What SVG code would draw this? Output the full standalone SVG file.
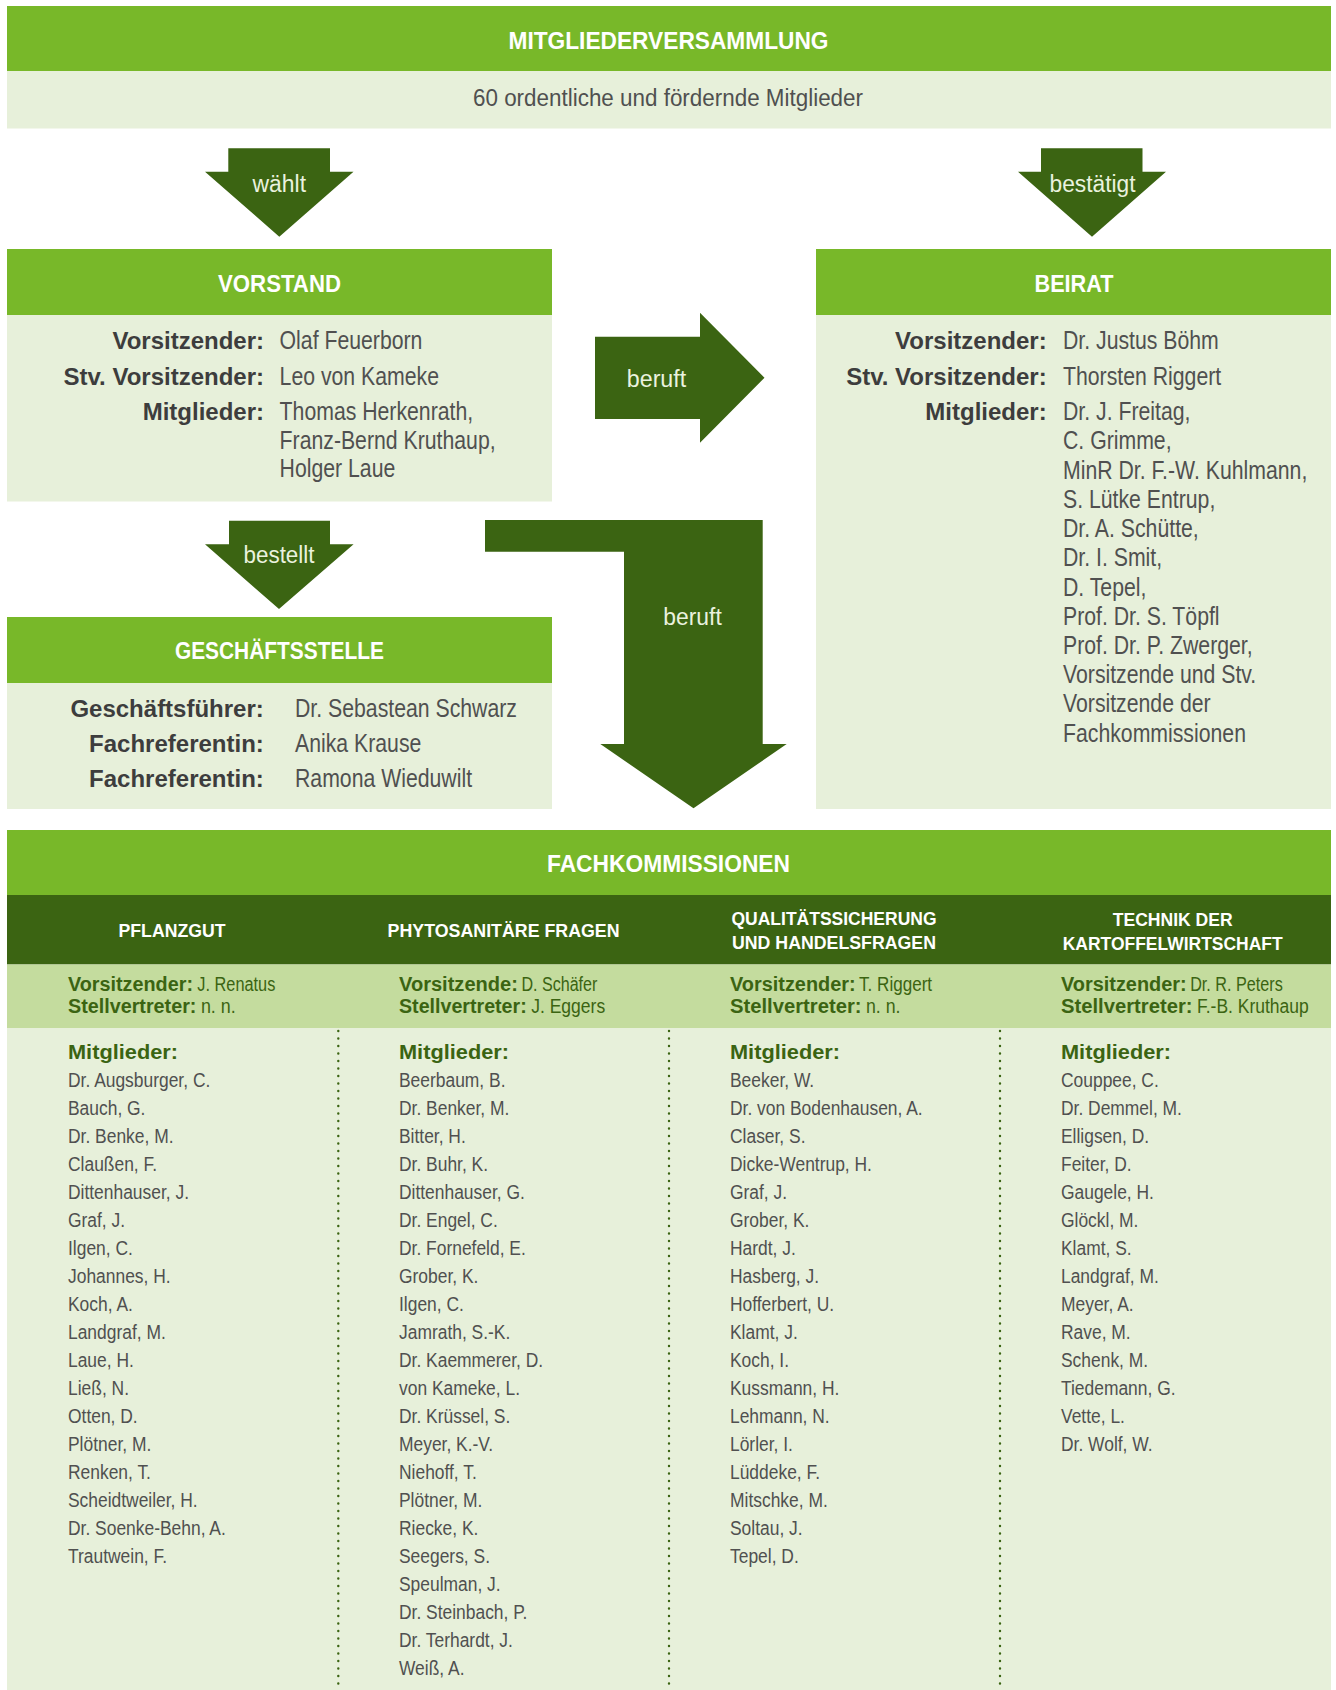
<svg xmlns="http://www.w3.org/2000/svg" width="1336" height="1690" viewBox="0 0 1336 1690">
<style>
text{font-family:"Liberation Sans",Arial,sans-serif}
.bg-g{fill:#78b829}
.bg-d{fill:#3b6412}
.bg-l{fill:#e7f0da}
.bg-m{fill:#c4dc9e}
.title{font-weight:bold;font-size:23px;fill:#ffffff;text-anchor:middle}
.lbl{font-weight:bold;font-size:24px;fill:#3d3d3d;text-anchor:end}
.val{font-size:25px;fill:#505050}
.sub{font-size:23px;fill:#505050;text-anchor:middle}
.arr{fill:#3b6412}
.atx{font-size:23px;fill:#eaf2df;text-anchor:middle}
.colh{font-weight:bold;font-size:18.5px;fill:#ffffff;text-anchor:middle}
.fl{font-weight:bold;font-size:19.5px;fill:#3b6412}
.fv{font-size:19.5px;fill:#3b6412}
.mh{font-weight:bold;font-size:21px;fill:#3b6412}
.mn{font-size:21px;fill:#505050}
.dot{stroke:#3b6412;stroke-width:2.4;stroke-linecap:round;stroke-dasharray:0 7.5;fill:none}
</style>

<g id="mitgliederversammlung">
<rect class="bg-g" x="7" y="6" width="1324" height="65"/>
<rect class="bg-l" x="7" y="71" width="1324" height="57.5"/>
<text class="title" x="668.5" y="48.5" textLength="320" lengthAdjust="spacingAndGlyphs">MITGLIEDERVERSAMMLUNG</text>
<text class="sub" x="668" y="105.5" textLength="390" lengthAdjust="spacingAndGlyphs">60 ordentliche und fördernde Mitglieder</text>
</g>

<g id="vorstand">
<rect class="bg-g" x="7" y="249" width="545" height="66"/>
<rect class="bg-l" x="7" y="315" width="545" height="186.5"/>
<text class="title" x="279.5" y="291.5" textLength="123" lengthAdjust="spacingAndGlyphs">VORSTAND</text>
<text class="lbl" x="264" y="349.3">Vorsitzender:</text>
<text class="lbl" x="264" y="385">Stv. Vorsitzender:</text>
<text class="lbl" x="264" y="420">Mitglieder:</text>
<g transform="translate(279.6 0) scale(0.85 1)">
<text class="val" x="0" y="349.3">Olaf Feuerborn</text>
<text class="val" x="0" y="385">Leo von Kameke</text>
<text class="val" x="0" y="420">Thomas Herkenrath,</text>
<text class="val" x="0" y="449.3">Franz-Bernd Kruthaup,</text>
<text class="val" x="0" y="477.5">Holger Laue</text>
</g>
</g>

<g id="beirat">
<rect class="bg-g" x="816" y="249" width="515" height="66"/>
<rect class="bg-l" x="816" y="315" width="515" height="494"/>
<text class="title" x="1074" y="291.5" textLength="79" lengthAdjust="spacingAndGlyphs">BEIRAT</text>
<text class="lbl" x="1046.7" y="349.3">Vorsitzender:</text>
<text class="lbl" x="1046.7" y="385">Stv. Vorsitzender:</text>
<text class="lbl" x="1046.7" y="420">Mitglieder:</text>
<g transform="translate(1063 0) scale(0.85 1)">
<text class="val" x="0" y="349.3">Dr. Justus Böhm</text>
<text class="val" x="0" y="385">Thorsten Riggert</text>
<text class="val" x="0" y="420">Dr. J. Freitag,</text>
<text class="val" x="0" y="449.5">C. Grimme,</text>
<text class="val" x="0" y="478.7">MinR Dr. F.-W. Kuhlmann,</text>
<text class="val" x="0" y="508">S. Lütke Entrup,</text>
<text class="val" x="0" y="537.2">Dr. A. Schütte,</text>
<text class="val" x="0" y="566.4">Dr. I. Smit,</text>
<text class="val" x="0" y="595.6">D. Tepel,</text>
<text class="val" x="0" y="624.8">Prof. Dr. S. Töpfl</text>
<text class="val" x="0" y="654">Prof. Dr. P. Zwerger,</text>
<text class="val" x="0" y="683.2">Vorsitzende und Stv.</text>
<text class="val" x="0" y="712.4">Vorsitzende der</text>
<text class="val" x="0" y="741.6">Fachkommissionen</text>
</g>
</g>

<g id="geschaeftsstelle">
<rect class="bg-g" x="7" y="617" width="545" height="66"/>
<rect class="bg-l" x="7" y="683" width="545" height="126"/>
<text class="title" x="279.4" y="659" textLength="209" lengthAdjust="spacingAndGlyphs">GESCHÄFTSSTELLE</text>
<text class="lbl" x="263.8" y="717.3">Geschäftsführer:</text>
<text class="lbl" x="263.8" y="752.3">Fachreferentin:</text>
<text class="lbl" x="263.8" y="787.3">Fachreferentin:</text>
<g transform="translate(295 0) scale(0.85 1)">
<text class="val" x="0" y="717.3">Dr. Sebastean Schwarz</text>
<text class="val" x="0" y="752.3">Anika Krause</text>
<text class="val" x="0" y="787.3">Ramona Wieduwilt</text>
</g>
</g>

<g id="fachkommissionen">
<rect class="bg-g" x="7" y="830" width="1324" height="65"/>
<rect class="bg-d" x="7" y="895" width="1324" height="69.5"/>
<rect class="bg-m" x="7" y="964.5" width="1324" height="63.5"/>
<rect class="bg-l" x="7" y="1028" width="1324" height="662"/>
<text class="title" x="668.5" y="872" textLength="243" lengthAdjust="spacingAndGlyphs">FACHKOMMISSIONEN</text>
<line class="dot" x1="338.3" y1="1031" x2="338.3" y2="1690"/>
<line class="dot" x1="669" y1="1031" x2="669" y2="1690"/>
<line class="dot" x1="1000" y1="1031" x2="1000" y2="1690"/>

<g id="fk-pflanzgut">
<text class="colh" x="172" y="936.5" textLength="107" lengthAdjust="spacingAndGlyphs">PFLANZGUT</text>
<text class="fl" x="68" y="990.5" textLength="125" lengthAdjust="spacingAndGlyphs">Vorsitzender:</text>
<text class="fv" x="197.3" y="990.5" textLength="78" lengthAdjust="spacingAndGlyphs">J. Renatus</text>
<text class="fl" x="68" y="1012.5" textLength="128.4" lengthAdjust="spacingAndGlyphs">Stellvertreter:</text>
<text class="fv" x="200.9" y="1012.5" textLength="34.8" lengthAdjust="spacingAndGlyphs">n. n.</text>
<text class="mh" x="68" y="1059" textLength="110" lengthAdjust="spacingAndGlyphs">Mitglieder:</text>
<g transform="translate(68 0) scale(0.83 1)">
<text class="mn" x="0" y="1087">Dr. Augsburger, C.</text>
<text class="mn" x="0" y="1115">Bauch, G.</text>
<text class="mn" x="0" y="1143">Dr. Benke, M.</text>
<text class="mn" x="0" y="1171">Claußen, F.</text>
<text class="mn" x="0" y="1199">Dittenhauser, J.</text>
<text class="mn" x="0" y="1227">Graf, J.</text>
<text class="mn" x="0" y="1255">Ilgen, C.</text>
<text class="mn" x="0" y="1283">Johannes, H.</text>
<text class="mn" x="0" y="1311">Koch, A.</text>
<text class="mn" x="0" y="1339">Landgraf, M.</text>
<text class="mn" x="0" y="1367">Laue, H.</text>
<text class="mn" x="0" y="1395">Ließ, N.</text>
<text class="mn" x="0" y="1423">Otten, D.</text>
<text class="mn" x="0" y="1451">Plötner, M.</text>
<text class="mn" x="0" y="1479">Renken, T.</text>
<text class="mn" x="0" y="1507">Scheidtweiler, H.</text>
<text class="mn" x="0" y="1535">Dr. Soenke-Behn, A.</text>
<text class="mn" x="0" y="1563">Trautwein, F.</text>
</g>
</g>

<g id="fk-phytosanitaere-fragen">
<text class="colh" x="503.6" y="936.5" textLength="232" lengthAdjust="spacingAndGlyphs">PHYTOSANITÄRE FRAGEN</text>
<text class="fl" x="399" y="990.5" textLength="118.9" lengthAdjust="spacingAndGlyphs">Vorsitzende:</text>
<text class="fv" x="521.4" y="990.5" textLength="76" lengthAdjust="spacingAndGlyphs">D. Schäfer</text>
<text class="fl" x="399" y="1012.5" textLength="127.7" lengthAdjust="spacingAndGlyphs">Stellvertreter:</text>
<text class="fv" x="531.2" y="1012.5" textLength="74" lengthAdjust="spacingAndGlyphs">J. Eggers</text>
<text class="mh" x="399" y="1059" textLength="110" lengthAdjust="spacingAndGlyphs">Mitglieder:</text>
<g transform="translate(399 0) scale(0.83 1)">
<text class="mn" x="0" y="1087">Beerbaum, B.</text>
<text class="mn" x="0" y="1115">Dr. Benker, M.</text>
<text class="mn" x="0" y="1143">Bitter, H.</text>
<text class="mn" x="0" y="1171">Dr. Buhr, K.</text>
<text class="mn" x="0" y="1199">Dittenhauser, G.</text>
<text class="mn" x="0" y="1227">Dr. Engel, C.</text>
<text class="mn" x="0" y="1255">Dr. Fornefeld, E.</text>
<text class="mn" x="0" y="1283">Grober, K.</text>
<text class="mn" x="0" y="1311">Ilgen, C.</text>
<text class="mn" x="0" y="1339">Jamrath, S.-K.</text>
<text class="mn" x="0" y="1367">Dr. Kaemmerer, D.</text>
<text class="mn" x="0" y="1395">von Kameke, L.</text>
<text class="mn" x="0" y="1423">Dr. Krüssel, S.</text>
<text class="mn" x="0" y="1451">Meyer, K.-V.</text>
<text class="mn" x="0" y="1479">Niehoff, T.</text>
<text class="mn" x="0" y="1507">Plötner, M.</text>
<text class="mn" x="0" y="1535">Riecke, K.</text>
<text class="mn" x="0" y="1563">Seegers, S.</text>
<text class="mn" x="0" y="1591">Speulman, J.</text>
<text class="mn" x="0" y="1619">Dr. Steinbach, P.</text>
<text class="mn" x="0" y="1647">Dr. Terhardt, J.</text>
<text class="mn" x="0" y="1675">Weiß, A.</text>
</g>
</g>

<g id="fk-qualitaetssicherung">
<text class="colh" x="834" y="925" textLength="205" lengthAdjust="spacingAndGlyphs">QUALITÄTSSICHERUNG</text>
<text class="colh" x="834" y="949" textLength="204" lengthAdjust="spacingAndGlyphs">UND HANDELSFRAGEN</text>
<text class="fl" x="730" y="990.5" textLength="125.6" lengthAdjust="spacingAndGlyphs">Vorsitzender:</text>
<text class="fv" x="859.1" y="990.5" textLength="73" lengthAdjust="spacingAndGlyphs">T. Riggert</text>
<text class="fl" x="730" y="1012.5" textLength="131.5" lengthAdjust="spacingAndGlyphs">Stellvertreter:</text>
<text class="fv" x="866" y="1012.5" textLength="34.5" lengthAdjust="spacingAndGlyphs">n. n.</text>
<text class="mh" x="730" y="1059" textLength="110" lengthAdjust="spacingAndGlyphs">Mitglieder:</text>
<g transform="translate(730 0) scale(0.83 1)">
<text class="mn" x="0" y="1087">Beeker, W.</text>
<text class="mn" x="0" y="1115">Dr. von Bodenhausen, A.</text>
<text class="mn" x="0" y="1143">Claser, S.</text>
<text class="mn" x="0" y="1171">Dicke-Wentrup, H.</text>
<text class="mn" x="0" y="1199">Graf, J.</text>
<text class="mn" x="0" y="1227">Grober, K.</text>
<text class="mn" x="0" y="1255">Hardt, J.</text>
<text class="mn" x="0" y="1283">Hasberg, J.</text>
<text class="mn" x="0" y="1311">Hofferbert, U.</text>
<text class="mn" x="0" y="1339">Klamt, J.</text>
<text class="mn" x="0" y="1367">Koch, I.</text>
<text class="mn" x="0" y="1395">Kussmann, H.</text>
<text class="mn" x="0" y="1423">Lehmann, N.</text>
<text class="mn" x="0" y="1451">Lörler, I.</text>
<text class="mn" x="0" y="1479">Lüddeke, F.</text>
<text class="mn" x="0" y="1507">Mitschke, M.</text>
<text class="mn" x="0" y="1535">Soltau, J.</text>
<text class="mn" x="0" y="1563">Tepel, D.</text>
</g>
</g>

<g id="fk-technik">
<text class="colh" x="1172.7" y="925.5" textLength="120" lengthAdjust="spacingAndGlyphs">TECHNIK DER</text>
<text class="colh" x="1172.7" y="949.5" textLength="220" lengthAdjust="spacingAndGlyphs">KARTOFFELWIRTSCHAFT</text>
<text class="fl" x="1061" y="990.5" textLength="125.7" lengthAdjust="spacingAndGlyphs">Vorsitzender:</text>
<text class="fv" x="1190.2" y="990.5" textLength="92.6" lengthAdjust="spacingAndGlyphs">Dr. R. Peters</text>
<text class="fl" x="1061" y="1012.5" textLength="131.5" lengthAdjust="spacingAndGlyphs">Stellvertreter:</text>
<text class="fv" x="1197" y="1012.5" textLength="111.7" lengthAdjust="spacingAndGlyphs">F.-B. Kruthaup</text>
<text class="mh" x="1061" y="1059" textLength="110" lengthAdjust="spacingAndGlyphs">Mitglieder:</text>
<g transform="translate(1061 0) scale(0.83 1)">
<text class="mn" x="0" y="1087">Couppee, C.</text>
<text class="mn" x="0" y="1115">Dr. Demmel, M.</text>
<text class="mn" x="0" y="1143">Elligsen, D.</text>
<text class="mn" x="0" y="1171">Feiter, D.</text>
<text class="mn" x="0" y="1199">Gaugele, H.</text>
<text class="mn" x="0" y="1227">Glöckl, M.</text>
<text class="mn" x="0" y="1255">Klamt, S.</text>
<text class="mn" x="0" y="1283">Landgraf, M.</text>
<text class="mn" x="0" y="1311">Meyer, A.</text>
<text class="mn" x="0" y="1339">Rave, M.</text>
<text class="mn" x="0" y="1367">Schenk, M.</text>
<text class="mn" x="0" y="1395">Tiedemann, G.</text>
<text class="mn" x="0" y="1423">Vette, L.</text>
<text class="mn" x="0" y="1451">Dr. Wolf, W.</text>
</g>
</g>
</g>

<g id="connectors">
<g id="arrow-waehlt">
<polygon class="arr" points="228.3,148.3 330,148.3 330,171.7 353.5,171.7 279.3,236.7 205,171.7 228.3,171.7"/>
<text class="atx" x="279.3" y="191.7" textLength="53.5" lengthAdjust="spacingAndGlyphs">wählt</text>
</g>
<g id="arrow-bestaetigt">
<polygon class="arr" points="1041,148.3 1142.5,148.3 1142.5,171.7 1166,171.7 1092,236.7 1018,171.7 1041,171.7"/>
<text class="atx" x="1092.5" y="191.7" textLength="86" lengthAdjust="spacingAndGlyphs">bestätigt</text>
</g>
<g id="arrow-beruft-beirat">
<polygon class="arr" points="595,336.7 700,336.7 700,312.7 764.5,377.7 700,442.7 700,419 595,419"/>
<text class="atx" x="656.5" y="386.7" textLength="59.5" lengthAdjust="spacingAndGlyphs">beruft</text>
</g>
<g id="arrow-bestellt">
<polygon class="arr" points="229,520.7 330,520.7 330,544.3 353.6,544.3 279,609 205,544.3 229,544.3"/>
<text class="atx" x="279" y="563" textLength="71" lengthAdjust="spacingAndGlyphs">bestellt</text>
</g>
<g id="arrow-beruft-fachkommissionen">
<polygon class="arr" points="485,520 762.7,520 762.7,744 786.7,744 693.5,808.3 600.3,744 624,744 624,551.7 485,551.7"/>
<text class="atx" x="692.5" y="625" textLength="58.5" lengthAdjust="spacingAndGlyphs">beruft</text>
</g>
</g>
</svg>
